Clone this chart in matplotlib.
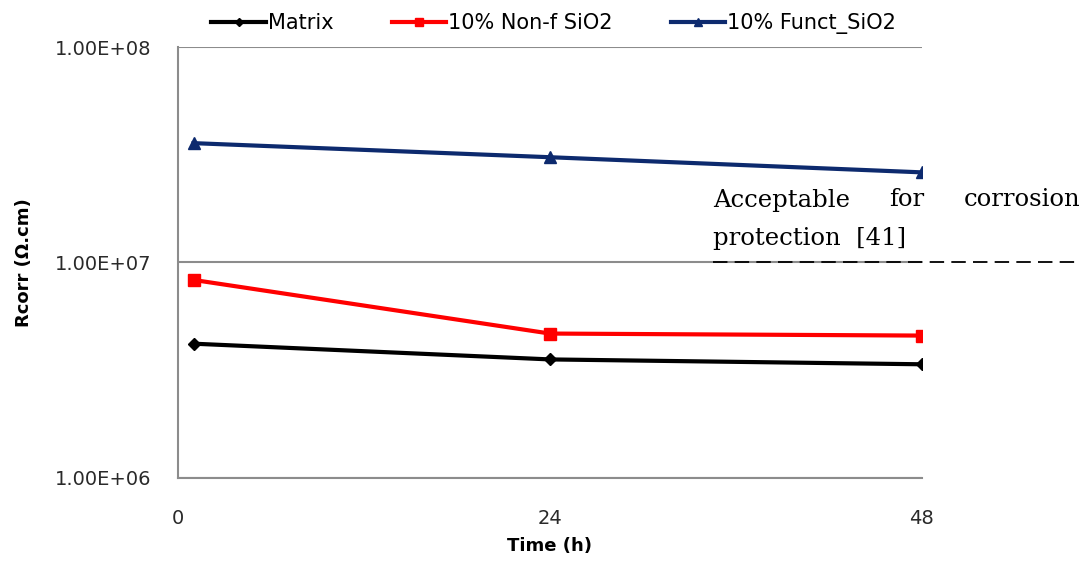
import matplotlib
matplotlib.use('Agg')
import matplotlib.pyplot as plt
from matplotlib.ticker import FixedLocator, NullLocator

time_h = [1, 24, 48]
matrix = [4.2e6, 3.55e6, 3.37e6]
non_f_sio2 = [8.3e6, 4.68e6, 4.58e6]
funct_sio2 = [3.58e7, 3.08e7, 2.62e7]

threshold = 1e7
yticks = [1e6, 1e7, 1e8]
ytick_labels = ["1.00E+06", "1.00E+07", "1.00E+08"]
xticks = [0, 24, 48]

fig = plt.figure(figsize=(10.89, 5.63), dpi=100)
ax = fig.add_axes([0.1635, 0.151, 0.683, 0.7655])

ax.plot(time_h, matrix, color="black", lw=3, marker="D", ms=6, label="Matrix")
ax.plot(time_h, non_f_sio2, color="#ff0000", lw=3, marker="s", ms=8, label="10% Non-f SiO2")
ax.plot(time_h, funct_sio2, color="#0d2a6e", lw=3, marker="^", ms=9, label="10% Funct_SiO2")

ax.set_yscale("log")
ax.set_ylim(1e6, 1e8)
ax.set_xlim(0, 48)
ax.yaxis.set_major_locator(FixedLocator(yticks))
ax.yaxis.set_minor_locator(NullLocator())
ax.set_yticklabels(ytick_labels)
ax.set_xticks(xticks)
ax.tick_params(length=0, labelsize=14, colors="#2a2a2a")
ax.tick_params(axis="y", pad=19)
ax.tick_params(axis="x", pad=22)
ax.grid(axis="y", color="#8c8c8c", lw=1.5)
for s in ["top", "right"]:
    ax.spines[s].set_visible(False)
for s in ["left", "bottom"]:
    ax.spines[s].set_color("#8c8c8c")
    ax.spines[s].set_linewidth(1.5)

ax.set_xlabel("Time (h)", fontsize=13, fontweight="bold", labelpad=7)
ax.set_ylabel("Rcorr (\u03a9.cm)", fontsize=13, fontweight="bold", labelpad=16)

ax.legend(loc="lower center", bbox_to_anchor=(0.505, 1.005), ncol=3, frameon=False,
          fontsize=15, handlelength=2.6, handletextpad=0.1, columnspacing=2.8,
          borderaxespad=0.1, markerscale=0.7)

# dashed threshold line, running past the plot area
ax.plot([0.719, 1.21], [threshold, threshold], transform=ax.get_yaxis_transform(),
        color="black", lw=1.3, ls=(0, (8, 4)), clip_on=False)

# justified note above the threshold
note = dict(family="DejaVu Serif", fontsize=17.5, color="black")
fig.text(713 / 1089, 1 - 200 / 563, "Acceptable", ha="left", va="center", **note)
fig.text(907 / 1089, 1 - 200 / 563, "for", ha="center", va="center", **note)
fig.text(1080 / 1089, 1 - 200 / 563, "corrosion", ha="right", va="center", **note)
fig.text(713 / 1089, 1 - 238 / 563, "protection  [41]", ha="left", va="center", **note)

fig.savefig("out.png", dpi=100)
